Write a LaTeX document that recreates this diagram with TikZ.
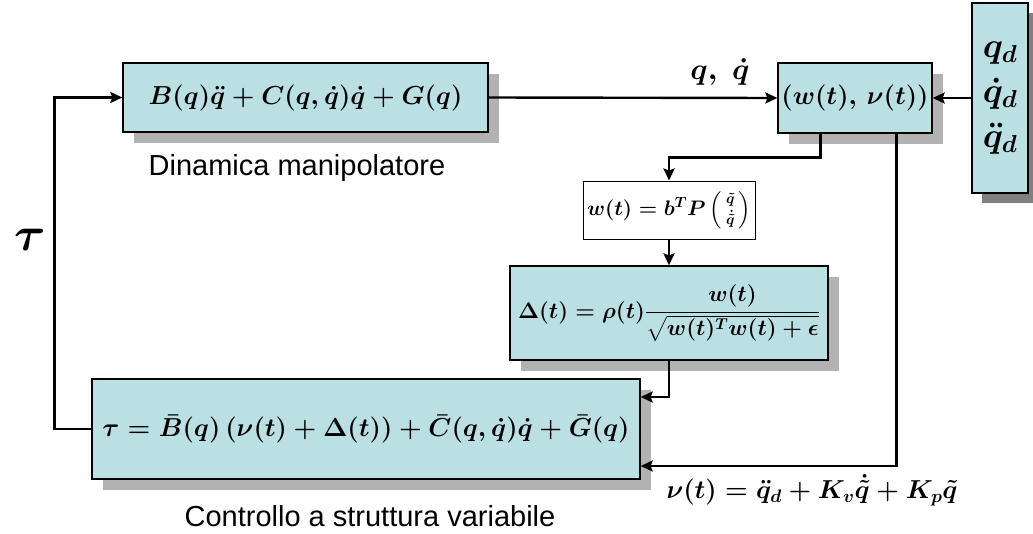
\RequirePackage{fix-cm}
\documentclass[tikz,border=0pt]{standalone}
\usepackage{amsmath}
\usepackage{fontspec}
\newfontfamily\labelfont{Liberation Sans}
\usetikzlibrary{arrows.meta,shadows}
\definecolor{boxcyan}{RGB}{187,224,227}
\tikzset{block/.style={rectangle,draw,line width=1.3pt,fill=boxcyan,inner sep=0pt,
    font=\fontsize{26}{30}\selectfont\boldmath},
  shadowed/.style={drop shadow={shadow xshift=11pt,shadow yshift=-11pt,fill=black!30,opacity=1}},
  darkshadow/.style={drop shadow={shadow xshift=10pt,shadow yshift=-10pt,fill=black!50,opacity=1}},
  arrow/.style={-{Stealth[length=12pt,width=11pt,inset=2pt]},line width=2.4pt},
  caption/.style={font=\fontsize{29}{33}\selectfont\labelfont}}

\begin{document}
\begin{tikzpicture}[x=1pt,y=-1pt]
  \path[use as bounding box] (0,0) rectangle (1033,533);
  % blocks
  \node[block,shadowed,minimum width=365pt,minimum height=69pt] (dyn) at (305.5,97.5)
    {$B(q)\ddot q + C(q,\dot q)\dot q + G(q)$};
  \node[block,shadowed,minimum width=154pt,minimum height=70pt] (wv) at (855,98)
    {$(w(t),\,\nu(t))$};
  \node[block,darkshadow,minimum width=56pt,minimum height=190pt,align=center,
    font=\fontsize{35}{45}\selectfont\boldmath] (qd) at (1000,98)
    {$q_d$\\$\dot q_d$\\$\ddot q_d$};
  \node[block,fill=white,line width=1pt,minimum width=172pt,minimum height=58pt,
    font=\fontsize{21}{24}\selectfont\boldmath] (w) at (669,210)
    {$w(t) = b^T P\left(\begin{smallmatrix}\tilde q\\[2pt] \dot{\tilde q}\end{smallmatrix}\right)$};
  \node[block,shadowed,minimum width=318pt,minimum height=94pt,
    font=\fontsize{22.5}{26}\selectfont\boldmath] (delta) at (669,313)
    {$\Delta(t) = \rho(t)\dfrac{w(t)}{\sqrt{w(t)^T w(t)+\epsilon}}$};
  \node[block,shadowed,minimum width=548pt,minimum height=100pt] (ctrl) at (366,429)
    {$\tau = \bar B(q)\,(\nu(t)+\Delta(t)) + \bar C(q,\dot q)\dot q + \bar G(q)$};
  % captions and signal names
  \node[caption] (dyncap) at (297,168) {Dinamica manipolatore};
  \node[caption] (ctrlcap) at (370,516) {Controllo a struttura variabile};
  \node[font=\fontsize{48}{52}\selectfont\boldmath] (tau) at (30,240) {$\tau$};
  \node[font=\fontsize{30}{34}\selectfont\boldmath] (qlab) at (720,72) {$q,\ \dot q$};
  \node[font=\fontsize{26}{30}\selectfont\boldmath] (nulab) at (812,490)
    {$\nu(t) = \ddot q_d + K_v\dot{\tilde q} + K_p\tilde q$};
  % connections
  \draw[arrow] (dyn.east) -- (wv.west);
  \draw[arrow] (qd.west) -- (wv.east);
  \draw[arrow] ([xshift=43pt]wv.south west) |- ([yshift=23pt]w.north) -- (w.north);
  \draw[arrow] (w.south) -- (delta.north);
  \draw[arrow] (delta.south) |- ([yshift=32pt]ctrl.east);
  \draw[arrow] ([xshift=-36pt]wv.south east) |- ([yshift=-37pt]ctrl.east);
  \draw[arrow] (ctrl.west) -- ++(-37pt,0) |- (dyn.west);
\end{tikzpicture}
\end{document}
